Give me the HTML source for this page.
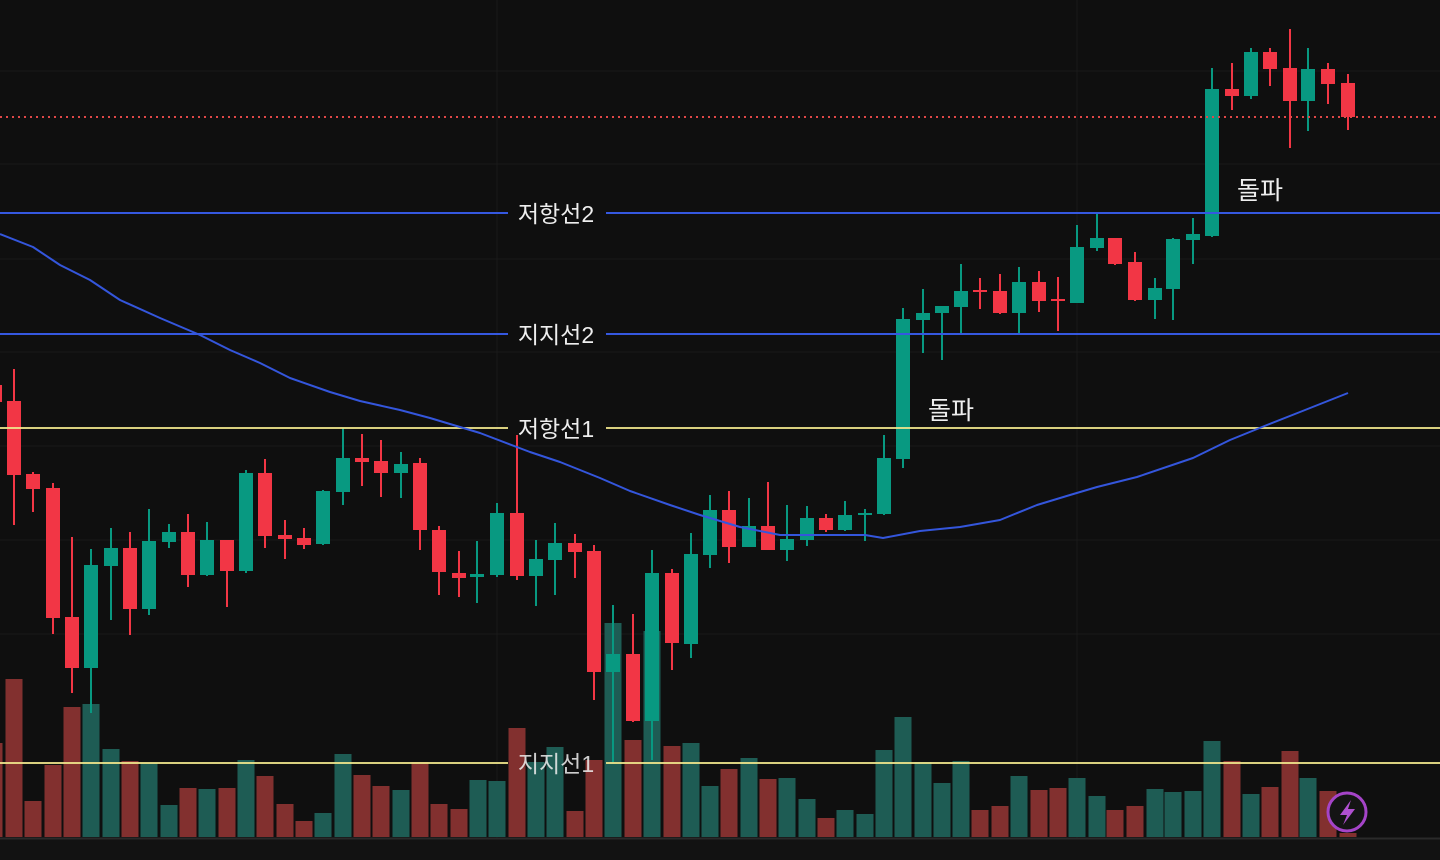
<!DOCTYPE html>
<html><head><meta charset="utf-8">
<style>
html,body{margin:0;padding:0;background:#0f0f0f;width:1440px;height:860px;overflow:hidden}
svg{display:block}
.lbl{font-family:"Liberation Sans","Noto Sans CJK KR",sans-serif;font-size:23px;fill:#eeeeee}
.brk{font-family:"Liberation Sans","Noto Sans CJK KR",sans-serif;font-size:25px;fill:#eeeeee}
</style></head>
<body>
<svg id="c" width="1440" height="860" viewBox="0 0 1440 860" xmlns="http://www.w3.org/2000/svg">
<rect width="1440" height="860" fill="#0f0f0f"/>
<g stroke="#1a1a1a" stroke-width="1">
<line x1="0" y1="71" x2="1440" y2="71"/><line x1="0" y1="164" x2="1440" y2="164"/>
<line x1="0" y1="259" x2="1440" y2="259"/><line x1="0" y1="352" x2="1440" y2="352"/>
<line x1="0" y1="446" x2="1440" y2="446"/><line x1="0" y1="540" x2="1440" y2="540"/>
<line x1="0" y1="634" x2="1440" y2="634"/>
<line x1="497" y1="0" x2="497" y2="860"/><line x1="1077" y1="0" x2="1077" y2="860"/>
</g>
<g id="vol"></g>
<g id="candles"></g>
<line x1="0" y1="117" x2="1440" y2="117" stroke="#e04848" stroke-width="2" stroke-dasharray="2,4"/>
<g stroke="#3558e0" stroke-width="2">
<line x1="0" y1="213" x2="508" y2="213"/><line x1="606" y1="213" x2="1440" y2="213"/>
<line x1="0" y1="334" x2="508" y2="334"/><line x1="606" y1="334" x2="1440" y2="334"/>
</g>
<g stroke="#f0e68c" stroke-width="2" stroke-opacity="0.9">
<line x1="0" y1="428" x2="508" y2="428"/><line x1="606" y1="428" x2="1440" y2="428"/>
<line x1="0" y1="763" x2="508" y2="763"/><line x1="606" y1="763" x2="1440" y2="763"/>
</g>
<polyline fill="none" stroke="#3456dc" stroke-width="2" stroke-linejoin="round" points="0,234 33,247 60,265 90,280 120,300 160,318 200,335 230,350 260,363 290,378 330,392 360,401 400,410 430,418 480,433 530,452 560,462 600,478 630,491 670,505 700,515 740,527 780,535 820,535 865,535 883,538 920,531 960,527 1000,520 1037,505 1070,495 1097,487 1137,477 1193,458 1230,440 1267,425 1300,412 1348,393"/>
<text class="lbl" x="556" y="222" text-anchor="middle">저항선2</text>
<text class="lbl" x="556" y="343" text-anchor="middle">지지선2</text>
<text class="lbl" x="556" y="437" text-anchor="middle">저항선1</text>
<text class="lbl" x="556" y="772" text-anchor="middle" fill-opacity="0.85">지지선1</text>
<text class="brk" x="928" y="419">돌파</text>
<text class="brk" x="1237" y="199">돌파</text>
<rect x="0" y="838" width="1440" height="22" fill="#121212"/>
<line x1="0" y1="838.5" x2="1440" y2="838.5" stroke="#2a2a2a" stroke-width="2"/>
<circle cx="1347" cy="812" r="19" fill="#141414" stroke="#a544c8" stroke-width="3"/>
<path d="M1351 800 L1340 815 L1347 815 L1343 825 L1355 809 L1348 809 Z" fill="#b050d0"/>
</svg>
<script>
var G="#089981",R="#f23645";
var C=[
[-5,"r",370,385,402,410],
[14,"r",369,401,475,525],[33,"r",472,474,489,512],[53,"r",483,488,618,634],[72,"r",537,617,668,693],
[91,"g",549,565,668,713],[111,"g",528,548,566,620],[130,"r",532,548,609,635],[149,"g",509,541,609,615],
[169,"g",524,532,542,548],[188,"r",514,532,575,587],[207,"g",522,540,575,576],[227,"r",540,540,571,607],
[246,"g",470,473,571,573],[265,"r",459,473,536,548],[285,"r",520,535,539,559],[304,"r",528,538,545,549],
[323,"g",490,491,544,545],[343,"g",428,458,492,505],[362,"r",434,458,462,486],[381,"r",440,461,473,497],
[401,"g",452,464,473,498],[420,"r",458,463,530,550],[439,"r",526,530,572,595],[459,"r",551,573,578,597],
[477,"g",541,574,577,603],[497,"g",503,513,575,577],[517,"r",435,513,576,580],[536,"g",540,559,576,606],
[555,"g",523,543,560,595],[575,"r",534,543,552,578],[594,"r",545,551,672,700],[613,"g",605,654,672,762],
[633,"r",614,654,721,722],[652,"g",550,573,721,760],[672,"r",569,573,643,670],[691,"g",533,554,644,658],
[710,"g",495,510,555,568],[729,"r",491,510,547,563],[749,"g",498,526,547,547],[768,"r",482,526,550,550],
[787,"g",505,539,550,561],[807,"g",506,518,540,546],[826,"r",514,518,530,532],[845,"g",501,515,530,531],
[865,"g",509,513,515,541],[884,"g",435,458,514,515],[903,"g",308,319,459,468],[923,"g",289,313,320,353],
[942,"g",306,306,313,360],[961,"g",264,291,307,333],[980,"r",278,290,292,309],[1000,"r",274,291,313,314],
[1019,"g",267,282,313,333],[1039,"r",271,282,301,312],[1058,"r",277,299,301,331],[1077,"g",225,247,303,303],
[1097,"g",214,238,248,251],[1115,"r",238,238,264,265],[1135,"r",252,262,300,301],[1155,"g",278,288,300,319],
[1173,"g",238,239,289,320],[1193,"g",218,234,240,264],[1212,"g",68,89,236,237],[1232,"r",63,89,96,110],
[1251,"g",48,52,96,99],[1270,"r",48,52,69,86],[1290,"r",29,68,101,148],[1308,"g",48,69,101,131],
[1328,"r",63,69,84,104],[1348,"r",74,83,117,130]];
var V=[[-6,"r",743],[14,"r",679],[33,"r",801],[53,"r",765],[72,"r",707],[91,"g",704],[111,"g",749],[130,"r",761],
[149,"g",763],[169,"g",805],[188,"r",788],[207,"g",789],[227,"r",788],[246,"g",760],[265,"r",776],[285,"r",804],
[304,"r",821],[323,"g",813],[343,"g",754],[362,"r",775],[381,"r",786],[401,"g",790],[420,"r",762],[439,"r",804],
[459,"r",809],[478,"g",780],[497,"g",781],[517,"r",728],[536,"g",762],[555,"g",747],[575,"r",811],[594,"r",760],
[613,"g",623],[633,"r",740],[652,"g",631],[672,"r",746],[691,"g",743],[710,"g",786],[729,"r",769],[749,"g",758],
[768,"r",779],[787,"g",778],[807,"g",799],[826,"r",818],[845,"g",810],[865,"g",814],[884,"g",750],[903,"g",717],
[923,"g",762],[942,"g",783],[961,"g",761],[980,"r",810],[1000,"r",806],[1019,"g",776],[1039,"r",790],[1058,"r",788],
[1077,"g",778],[1097,"g",796],[1115,"r",810],[1135,"r",806],[1155,"g",789],[1173,"g",792],[1193,"g",791],
[1212,"g",741],[1232,"r",761],[1251,"g",794],[1270,"r",787],[1290,"r",751],[1308,"g",778],[1328,"r",791],[1348,"r",833]];
var ns="http://www.w3.org/2000/svg";
function el(p,t,a){var e=document.createElementNS(ns,t);for(var k in a)e.setAttribute(k,a[k]);p.appendChild(e);}
var vg=document.getElementById("vol"),cg=document.getElementById("candles");
V.forEach(function(v){el(vg,"rect",{x:v[0]-8.5,y:v[2],width:17,height:837-v[2],fill:v[1]=="g"?"#1e5c54":"#82302f"});});
C.forEach(function(c){var col=c[1]=="g"?G:R;
el(cg,"rect",{x:c[0]-1,y:c[2],width:2,height:c[5]-c[2],fill:col});
el(cg,"rect",{x:c[0]-7,y:c[3],width:14,height:Math.max(2,c[4]-c[3]),fill:col});});
</script>
</body></html>
